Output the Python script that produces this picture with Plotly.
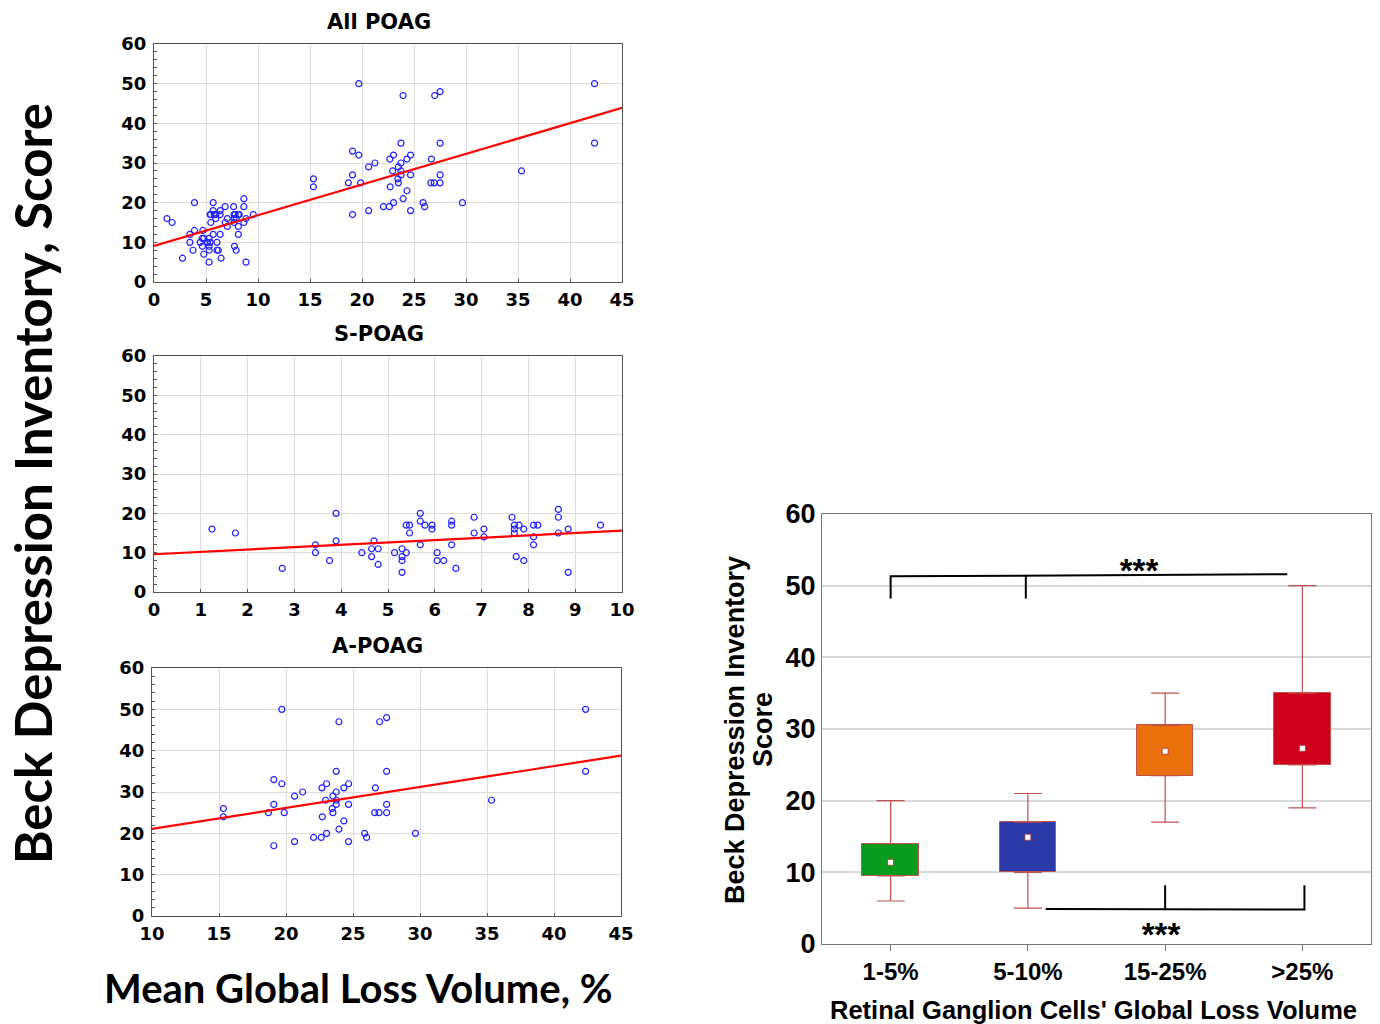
import plotly.graph_objects as go
import numpy as np

# ---------------- data ----------------
# S-POAG (mean global loss volume %, BDI score)
s_x = [1.24, 1.74, 2.74, 3.45, 3.45, 3.75, 3.89, 3.89, 4.44, 4.65, 4.65, 4.70, 4.79, 4.79,
       5.14, 5.30, 5.30, 5.30, 5.30, 5.39, 5.39, 5.46, 5.46, 5.69, 5.69, 5.69, 5.79, 5.94,
       5.94, 6.05, 6.05, 6.19, 6.36, 6.36, 6.36, 6.45, 6.84, 6.84, 7.05, 7.05, 7.65, 7.70,
       7.70, 7.70, 7.74, 7.80, 7.90, 7.90, 8.11, 8.11, 8.11, 8.20, 8.64, 8.64, 8.64, 8.85,
       8.85, 9.54]
s_y = [16, 15, 6, 12, 10, 8, 20, 13, 10, 9, 11, 13, 11, 7,
       10, 11, 9, 8, 5, 10, 17, 17, 15, 20, 18, 12, 17, 17,
       16, 10, 8, 8, 18, 17, 12, 6, 19, 15, 16, 14, 19, 17,
       16, 15, 9, 17, 16, 8, 17, 14, 12, 17, 21, 19, 15, 16,
       5, 17]

# A-POAG
a_x = [19.69, 23.95, 26.99, 27.51, 42.36, 42.36, 23.75, 27.51, 19.09, 19.69, 23.03, 24.67,
       22.68, 24.32, 26.67, 21.24, 23.75, 20.64, 23.50, 22.95, 23.75, 35.34, 15.33, 19.09,
       23.75, 24.67, 27.51, 23.45, 15.33, 18.69, 19.87, 23.50, 26.62, 26.94, 27.51, 22.71,
       24.32, 23.95, 23.03, 25.87, 29.66, 26.02, 22.06, 22.63, 20.64, 24.67, 19.09]
a_y = [50, 47, 47, 48, 50, 35, 35, 35, 33, 32, 32, 32,
       31, 31, 31, 30, 30, 29, 29, 28, 28, 28, 26, 27,
       27, 27, 27, 26, 24, 25, 25, 25, 25, 25, 25, 24,
       23, 21, 20, 20, 20, 19, 19, 19, 18, 18, 17]

# All POAG = both groups
all_x = s_x + a_x
all_y = s_y + a_y

# regression lines (end points)
all_fit_x = [0, 45]
all_fit_y = [9.1, 43.9]
s_fit_x = [0, 10]
s_fit_y = [9.6, 15.6]
a_fit_x = [10, 45]
a_fit_y = [21.1, 38.8]

# box plot
groups = ["1-5%", "5-10%", "15-25%", ">25%"]
q1 = [9.5, 10.0, 23.5, 25.0]
q3 = [14.0, 17.0, 30.5, 35.0]
low = [6.0, 5.0, 17.0, 19.0]
high = [20.0, 21.0, 35.0, 50.0]
center = [11.4, 14.9, 26.9, 27.3]
box_colors = ["#089c1e", "#2b3aa8", "#ea700c", "#d0021b"]

# significance brackets
sig_top_x = [0, 0, 2.89, None, 0.985, 0.985]
sig_top_y = [48.2, 51.3, 51.6, None, 51.4, 48.2]
sig_bot_x = [1.13, 3.015, 3.015, None, 2, 2]
sig_bot_y = [4.9, 4.8, 8.2, None, 4.85, 8.2]
sig_labels_x = [1.81, 1.97]
sig_labels_y = [51.6, 0.9]

# ---------------- figure ----------------
W, H = 1380, 1024
fig = go.Figure()


def dom_x(a, b):
    return [a / W, b / W]


def dom_y(top, bottom):
    return [1 - bottom / H, 1 - top / H]


scatter_font = dict(family="DejaVu Sans", size=18, color="black", weight="bold")
frame = "#555555"
grid = "#dcdcdc"


def scatter_axes(n, xd, yd, xr, dx):
    ax = dict(domain=xd, range=xr, dtick=dx, showgrid=True, gridcolor=grid, gridwidth=1,
              showline=True, linecolor=frame, linewidth=1, mirror=True, ticks="inside",
              ticklen=3, tickcolor=frame, zeroline=False, tickfont=scatter_font,
              automargin=False, ticklabelstandoff=1,
              anchor="y" + ("" if n == 1 else str(n)), fixedrange=True)
    ay = dict(domain=yd, range=[0, 60], dtick=10, showgrid=True, gridcolor=grid, gridwidth=1,
              showline=True, linecolor=frame, linewidth=1, mirror=True, ticks="inside",
              ticklen=3, tickcolor=frame, zeroline=False, tickfont=scatter_font,
              automargin=False, ticklabelstandoff=3,
              minor=dict(dtick=2, ticks="inside", ticklen=3, tickcolor=frame, showgrid=False),
              anchor="x" + ("" if n == 1 else str(n)), fixedrange=True)
    return ax, ay


panels = [
    (1, dom_x(154, 622), dom_y(44, 282), [0, 45], 5, all_x, all_y, all_fit_x, all_fit_y),
    (2, dom_x(154, 622), dom_y(356, 592), [0, 10], 1, s_x, s_y, s_fit_x, s_fit_y),
    (3, dom_x(152, 621), dom_y(668, 916), [10, 45], 5, a_x, a_y, a_fit_x, a_fit_y),
]

layout_axes = {}
for n, xd, yd, xr, dx, px, py, fx, fy in panels:
    ax, ay = scatter_axes(n, xd, yd, xr, dx)
    suffix = "" if n == 1 else str(n)
    layout_axes["xaxis" + suffix] = ax
    layout_axes["yaxis" + suffix] = ay
    fig.add_trace(go.Scatter(x=px, y=py, mode="markers", xaxis="x" + suffix, yaxis="y" + suffix,
                             marker=dict(symbol="circle-open", size=6, color="#2020ff",
                                         line=dict(width=1.2, color="#2020ff")),
                             showlegend=False, cliponaxis=False))
    fig.add_trace(go.Scatter(x=fx, y=fy, mode="lines", xaxis="x" + suffix, yaxis="y" + suffix,
                             line=dict(color="#ff0000", width=2.2), showlegend=False))

# ---- box plot (axis 4) ----
xi = list(range(len(groups)))
q1a = np.array(q1)
q3a = np.array(q3)
whisk = "#c0504d"

fig.add_trace(go.Scatter(x=xi, y=q3, mode="markers", xaxis="x4", yaxis="y4",
                         marker=dict(size=1, color="rgba(0,0,0,0)"), showlegend=False,
                         error_y=dict(type="data", symmetric=False,
                                      array=list(np.array(high) - q3a), arrayminus=[0] * 4,
                                      color=whisk, thickness=1.2, width=14)))
fig.add_trace(go.Scatter(x=xi, y=q1, mode="markers", xaxis="x4", yaxis="y4",
                         marker=dict(size=1, color="rgba(0,0,0,0)"), showlegend=False,
                         error_y=dict(type="data", symmetric=False,
                                      array=[0] * 4, arrayminus=list(q1a - np.array(low)),
                                      color=whisk, thickness=1.2, width=14)))
fig.add_trace(go.Bar(x=xi, y=list(q3a - q1a), base=q1, width=0.41, xaxis="x4", yaxis="y4",
                     marker=dict(color=box_colors, line=dict(color=whisk, width=1)),
                     showlegend=False))
fig.add_trace(go.Scatter(x=xi, y=center, mode="markers", xaxis="x4", yaxis="y4",
                         marker=dict(symbol="square", size=6, color="white",
                                     line=dict(color="#b03030", width=0.8)),
                         showlegend=False))
fig.add_trace(go.Scatter(x=sig_top_x, y=sig_top_y, mode="lines", xaxis="x4", yaxis="y4",
                         line=dict(color="black", width=2), showlegend=False, connectgaps=False))
fig.add_trace(go.Scatter(x=sig_bot_x, y=sig_bot_y, mode="lines", xaxis="x4", yaxis="y4",
                         line=dict(color="black", width=2), showlegend=False, connectgaps=False))
fig.add_trace(go.Scatter(x=sig_labels_x, y=sig_labels_y, mode="text", text=["***", "***"],
                         xaxis="x4", yaxis="y4",
                         textfont=dict(family="Liberation Sans", size=33, color="black",
                                       weight="bold"),
                         showlegend=False))

box_font = "Liberation Sans"
layout_axes["xaxis4"] = dict(domain=dom_x(822, 1371), range=[-0.5, 3.5], tickvals=xi,
                             ticktext=groups, showgrid=False,
                             showline=True, linecolor="#777777", linewidth=1, mirror=True,
                             ticks="outside", ticklen=6, tickcolor="#777777", zeroline=False,
                             tickfont=dict(family=box_font, size=24, color="black",
                                           weight="bold"),
                             automargin=False, anchor="y4", fixedrange=True)
layout_axes["yaxis4"] = dict(domain=dom_y(514, 944), range=[0, 60], dtick=10,
                             showgrid=True, gridcolor="#d8d8d8", gridwidth=1.5,
                             showline=True, linecolor="#777777", linewidth=1, mirror=True,
                             ticks="", zeroline=False,
                             tickfont=dict(family=box_font, size=27, color="black",
                                           weight="bold"),
                             automargin=False, anchor="x4", fixedrange=True)

annotations = [
    dict(text="<b>All POAG</b>", x=379 / W, y=1 - 22 / H),
    dict(text="<b>S-POAG</b>", x=379 / W, y=1 - 334 / H),
    dict(text="<b>A-POAG</b>", x=378 / W, y=1 - 646 / H),
]
for a in annotations:
    a.update(xref="paper", yref="paper", showarrow=False, xanchor="center", yanchor="middle",
             font=dict(family="DejaVu Sans", size=21, color="black"))

annotations += [
    dict(text="<b>Beck Depression Inventory, Score</b>", x=32 / W, y=1 - 484 / H,
         textangle=-90, font=dict(family="Lato", size=51, color="black")),
    dict(text="<b>Mean Global Loss Volume, %</b>", x=358 / W, y=1 - 988 / H,
         font=dict(family="Lato", size=40, color="black")),
    dict(text="<b>Beck Depression Inventory</b>", x=735 / W, y=1 - 730 / H,
         textangle=-90, font=dict(family="Liberation Sans", size=27, color="black")),
    dict(text="<b>Score</b>", x=763 / W, y=1 - 730 / H,
         textangle=-90, font=dict(family="Liberation Sans", size=27, color="black")),
    dict(text="<b>Retinal Ganglion Cells' Global Loss Volume</b>", x=1093 / W, y=1 - 1010 / H,
         font=dict(family="Liberation Sans", size=25.5, color="black")),
]
for a in annotations[3:]:
    a.update(xref="paper", yref="paper", showarrow=False, xanchor="center", yanchor="middle")

fig.update_layout(width=W, height=H,
                  margin=dict(l=0, r=0, t=0, b=0, pad=0, autoexpand=False),
                  paper_bgcolor="white", plot_bgcolor="white", annotations=annotations,
                  bargap=0, showlegend=False, **layout_axes)

fig.write_html("out.html", config={"displayModeBar": False},
               post_script="document.body.style.margin='0';document.body.style.overflow='hidden';")
